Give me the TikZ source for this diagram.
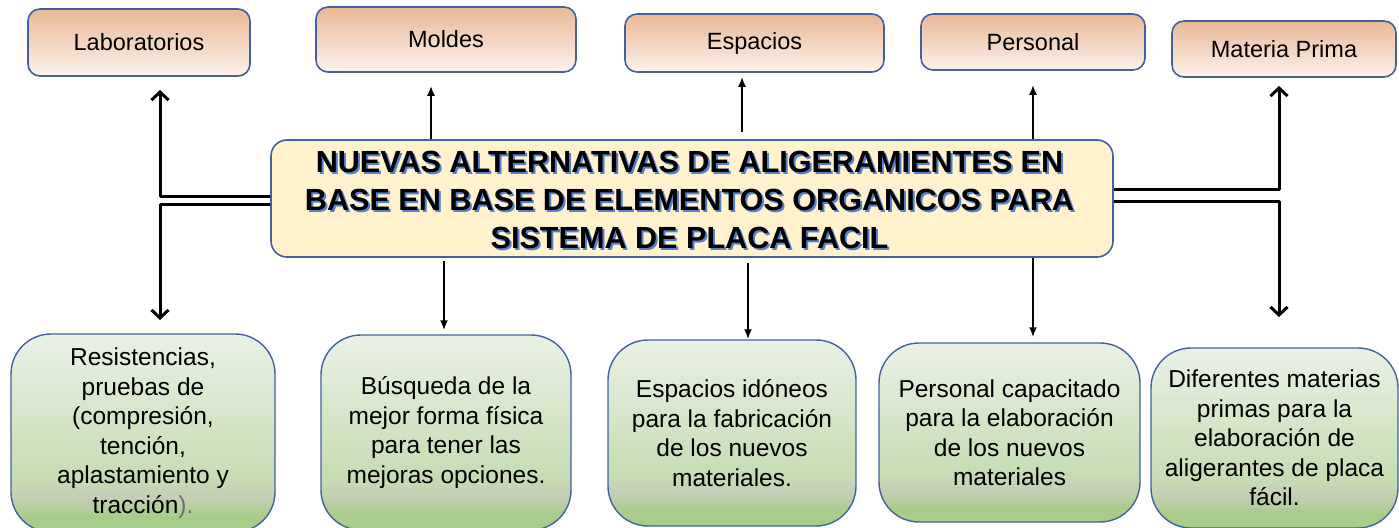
\documentclass[tikz,border=0pt]{standalone}
\usepackage{fontspec}
\setmainfont{Liberation Sans}
\usetikzlibrary{arrows.meta}
\definecolor{boxblue}{RGB}{65,98,158}
\definecolor{peachtop}{RGB}{233,184,151}
\definecolor{peachbottom}{RGB}{253,242,235}
\definecolor{cream}{RGB}{255,242,204}
\definecolor{greenlight}{RGB}{234,241,229}
\definecolor{greenmid}{RGB}{198,221,180}
\definecolor{greenband}{RGB}{197,207,182}
\definecolor{greendark}{RGB}{168,205,138}
\definecolor{shadowblue}{RGB}{84,130,208}
\definecolor{closegray}{RGB}{110,110,120}
\pgfdeclareverticalshading{green_fill}{100bp}{color(0bp)=(greendark); color(29bp)=(greendark); color(34bp)=(greenband); color(39bp)=(greenmid); color(75bp)=(greenlight); color(100bp)=(greenlight)}
\begin{document}
\begin{tikzpicture}[x=1pt, y=-1pt, line join=round, top_style/.style={draw=boxblue, line width=1.6pt, rounded corners=12pt, top color=peachtop, bottom color=peachbottom, inner sep=0pt, font=\fontsize{23.5}{28}\selectfont}, main_style/.style={draw=boxblue, line width=1.6pt, rounded corners=16pt, fill=cream, inner sep=0pt}, title_style/.style={align=center, inner sep=0pt, font=\fontsize{30.6}{38}\selectfont\bfseries}, bottom_style/.style={draw=boxblue, line width=1.4pt, rounded corners=40pt, shading=green_fill, align=center, inner sep=0pt, font=\fontsize{24.5}{29.5}\selectfont}, link_style/.style={draw=black, line width=2pt, -{Latex[length=10pt,width=8pt]}}, thick_link_style/.style={draw=black, line width=3pt, -{Straight Barb[length=8pt,width=17pt]}}]
      \useasboundingbox (0,0) rectangle (1399,527);
      \draw
        (139,42.5) node[top_style, minimum width=222pt, minimum height=67pt] (lab){Laboratorios}
        (446,39.5) node[top_style, minimum width=260pt, minimum height=65pt] (moldes){Moldes}
        (754.5,43) node[top_style, minimum width=259pt, minimum height=58pt] (espacios){Espacios}
        (1033,42) node[top_style, minimum width=224pt, minimum height=56pt] (personal){Personal}
        (1284,49) node[top_style, minimum width=224pt, minimum height=56pt] (materia){Materia Prima};
      \draw
        (692,198.5) node[main_style, minimum width=842pt, minimum height=117pt] (tema){}
        (691.5,201.5) node[title_style, text=shadowblue] (tema_shadow){NUEVAS ALTERNATIVAS DE ALIGERAMIENTES EN\\BASE EN BASE DE ELEMENTOS ORGANICOS PARA\\SISTEMA DE PLACA FACIL}
        (689.5,199.5) node[title_style] (tema_text){NUEVAS ALTERNATIVAS DE ALIGERAMIENTES EN\\BASE EN BASE DE ELEMENTOS ORGANICOS PARA\\SISTEMA DE PLACA FACIL};
      \draw
        (143,433) node[bottom_style, minimum width=264pt, minimum height=198pt] (resistencias){Resistencias,\\pruebas de\\(compresión,\\tención,\\aplastamiento y\\tracción\textcolor{closegray}{).}}
        (446,432.5) node[bottom_style, minimum width=250pt, minimum height=195pt] (busqueda){Búsqueda de la\\mejor forma física\\para tener las\\mejoras opciones.}
        (732,433) node[bottom_style, minimum width=248pt, minimum height=186pt] (idoneos){Espacios idóneos\\para la fabricación\\de los nuevos\\materiales.}
        (1009.5,432.5) node[bottom_style, minimum width=261pt, minimum height=179pt] (capacitado){Personal capacitado\\para la elaboración\\de los nuevos\\materiales}
        (1274.5,438) node[bottom_style, minimum width=247pt, minimum height=180pt] (diferentes){Diferentes materias\\primas para la\\elaboración de\\aligerantes de placa\\fácil.};
      % side branches
      \coordinate (lab_tip) at (160,90);
      \coordinate (resistencias_tip) at (160,320);
      \coordinate (materia_tip) at (1279,86);
      \coordinate (diferentes_tip) at (1279,317);
      \draw[thick_link_style] (tema.west |- 0,196) -| (lab_tip);
      \draw[thick_link_style] (tema.west |- 0,204) -| (resistencias_tip);
      \draw[thick_link_style] (tema.east |- 0,189) -| (materia_tip);
      \draw[thick_link_style] (tema.east |- 0,201) -| (diferentes_tip);
      % up and down
      \draw[link_style, shorten >=13pt] (tema.north -| 431,0) -- (moldes.south -| 431,0);
      \draw[link_style, shorten <=7pt, shorten >=4pt] (tema.north -| 742,0) -- (espacios.south -| 742,0);
      \draw[link_style, shorten >=14pt] (tema.north -| 1033,0) -- (personal.south -| 1033,0);
      \draw[link_style, shorten <=3pt, shorten >=4pt] (tema.south -| 444,0) -- (busqueda.north -| 444,0);
      \draw[link_style, shorten <=5pt] (tema.south -| 748,0) -- (idoneos.north -| 748,0);
      \draw[link_style, shorten >=5pt] (tema.south -| 1033,0) -- (capacitado.north -| 1033,0);
    \end{tikzpicture}
\end{document}
